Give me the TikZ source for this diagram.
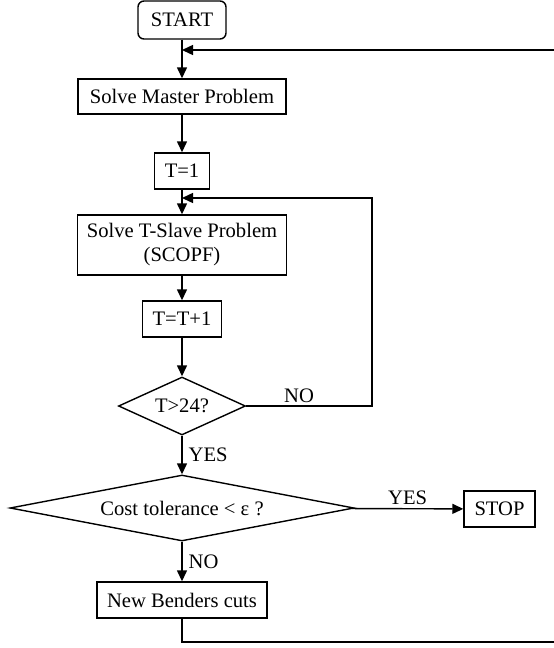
\documentclass[tikz,border=0pt]{standalone}
\usepackage{fontspec}
\setmainfont{Liberation Serif}
\usetikzlibrary{shapes.geometric,arrows.meta}
\begin{document}
\begin{tikzpicture}[x=1pt,y=-1pt,
  every node/.style={font=\fontsize{20.6}{24}\selectfont, inner sep=0pt},
  box/.style={draw, line width=1.4pt, rectangle, align=center},
  startbox/.style={box, rounded corners=6pt},
  decision/.style={draw, line width=1.4pt, diamond},
  conn/.style={line width=1.4pt, -{Triangle[length=11pt,width=10pt]}},
  plain/.style={line width=1.4pt}
]
\useasboundingbox (0,0) rectangle (554,648);

\node[startbox, minimum width=88pt, minimum height=38pt] (start) at (182,20) {START};
\node[box, minimum width=208pt, minimum height=35pt] (master) at (182,96.5) {Solve Master Problem};
\node[box, minimum width=55pt, minimum height=36pt] (t1) at (182,171) {T=1};
\node[box, minimum width=209pt, minimum height=60pt] (slave) at (182,245) {Solve T-Slave Problem\\(SCOPF)};
\node[box, minimum width=79pt, minimum height=36pt] (tt1) at (182,319) {T=T+1};
\node[decision, aspect=2.2, minimum width=127pt, minimum height=58pt] (d1) at (182,406) {T\textgreater24?};
\node[decision, aspect=5.2, minimum width=344pt, minimum height=66pt] (d2) at (182,508) {Cost tolerance \textless{} ε ?};
\node[box, minimum width=71pt, minimum height=36pt] (stop) at (499.5,509) {STOP};
\node[box, minimum width=170pt, minimum height=36pt] (benders) at (182,600) {New Benders cuts};

\coordinate (j1) at (182,50);
\coordinate (j2) at (182,198);
\coordinate (loopr) at (372,406);
\coordinate (rb) at (556,642);
\coordinate (rt) at (556,50);

\draw[conn] (start) -- (master);
\draw[conn] (master) -- (t1);
\draw[conn] (t1) -- (slave);
\draw[conn] (slave) -- (tt1);
\draw[conn] (tt1) -- (d1);
\draw[conn] (d1) -- node[right=6pt, pos=0.5] (lyes1) {YES} (d2);
\draw[conn] (d2) -- node[above=3pt, pos=0.5] (lyes2) {YES} (stop);
\draw[conn] (d2) -- node[right=6pt, pos=0.5] (lno2) {NO} (benders);

\draw[conn] (d1.east) -- node[above=3pt, pos=0.42] (lno1) {NO} (loopr) |- (j2);
\draw[conn] (benders.south) |- (rb) -- (rt) -- (j1);
\end{tikzpicture}
\end{document}
